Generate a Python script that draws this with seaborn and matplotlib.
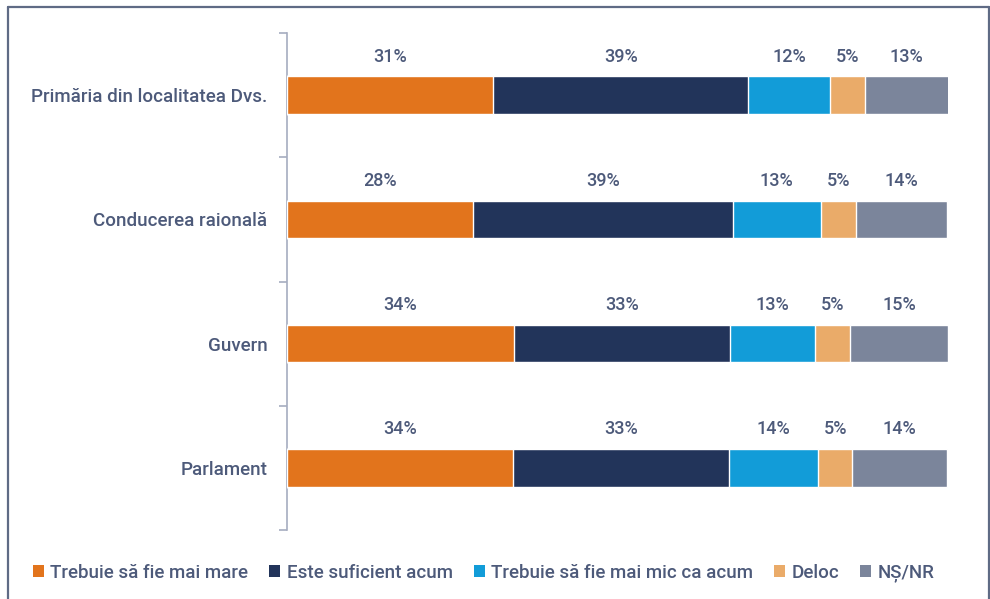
import matplotlib.pyplot as plt
import seaborn as sns
import pandas as pd
from matplotlib.lines import Line2D
from matplotlib.patches import Patch

# Data (shares in %)
institutions = ["Primăria din localitatea Dvs.", "Conducerea raională", "Guvern", "Parlament"]
answers = ["Trebuie să fie mai mare", "Este suficient acum", "Trebuie să fie mai mic ca acum", "Deloc", "NȘ/NR"]
mai_mare = [31.2, 28.1, 34.3, 34.2]
suficient = [38.6, 39.3, 32.7, 32.6]
mai_mic = [12.3, 13.4, 12.9, 13.6]
deloc = [5.3, 5.3, 5.3, 5.1]
ns_nr = [12.7, 13.8, 14.8, 14.4]

colors = ["#e2741c", "#22345a", "#129cd8", "#eaab69", "#7b859b"]
text_color = "#4d5a7a"

df = pd.DataFrame({
    "institution": institutions,
    answers[0]: mai_mare,
    answers[1]: suficient,
    answers[2]: mai_mic,
    answers[3]: deloc,
    answers[4]: ns_nr,
})

sns.set_theme(style="white")
plt.rcParams["font.family"] = ["Roboto", "DejaVu Sans"]

fig = plt.figure(figsize=(9.9, 5.99), dpi=100)
ax = fig.add_axes([0.2899, 0.1152, 0.6677, 0.8297])

left = [0.0] * len(institutions)
for k, (ans, col) in enumerate(zip(answers, colors)):
    vals = df[ans].tolist()
    sns.barplot(x=[l + v for l, v in zip(left, vals)], y=df["institution"], color=col,
                saturation=1, orient="h", width=0.3, ax=ax, zorder=10 - k)
    for i, (l, v) in enumerate(zip(left, vals)):
        ax.text(l + v / 2, i - 0.31, f"{v:.0f}%", ha="center", va="center",
                fontsize=13, color=text_color, fontweight="medium")
    left = [l + v for l, v in zip(left, vals)]

ax.set_xlim(0, 100)
ax.set_ylim(3.5, -0.5)
ax.set_xlabel("")
ax.set_ylabel("")
ax.set_xticks([])
ax.set_yticks([0, 1, 2, 3])
ax.set_yticklabels(institutions, fontsize=13.5, color=text_color, fontweight="medium")
ax.tick_params(axis="y", length=0, pad=14)
for s in ["top", "right", "bottom"]:
    ax.spines[s].set_visible(False)
ax.spines["left"].set_color("#a6adc0")
ax.spines["left"].set_linewidth(1.2)
# minor ticks at category boundaries
ax.set_yticks([-0.5, 0.5, 1.5, 2.5, 3.5], minor=True)
ax.tick_params(axis="y", which="minor", length=6, color="#a6adc0", width=1.2, left=True)

# outer frame
for xs, ys in [([8 / 990, 8 / 990], [0, 1 - 7 / 599]),
               ([989 / 990, 989 / 990], [0, 1 - 7 / 599]),
               ([8 / 990, 989 / 990], [1 - 7 / 599, 1 - 7 / 599])]:
    fig.add_artist(Line2D(xs, ys, color="#5f6b85", lw=1.6, transform=fig.transFigure))

handles = [Patch(facecolor=c, edgecolor="none") for c in colors]
leg = fig.legend(handles, answers, loc="center left", bbox_to_anchor=(0.0235, 1 - 573 / 599),
                 ncol=5, frameon=False, fontsize=13.5, handlelength=0.6, handleheight=0.6,
                 handletextpad=0.35, columnspacing=1.1, borderpad=0)
for t in leg.get_texts():
    t.set_color(text_color)
    t.set_fontweight("medium")

fig.savefig("out.png", dpi=100)
